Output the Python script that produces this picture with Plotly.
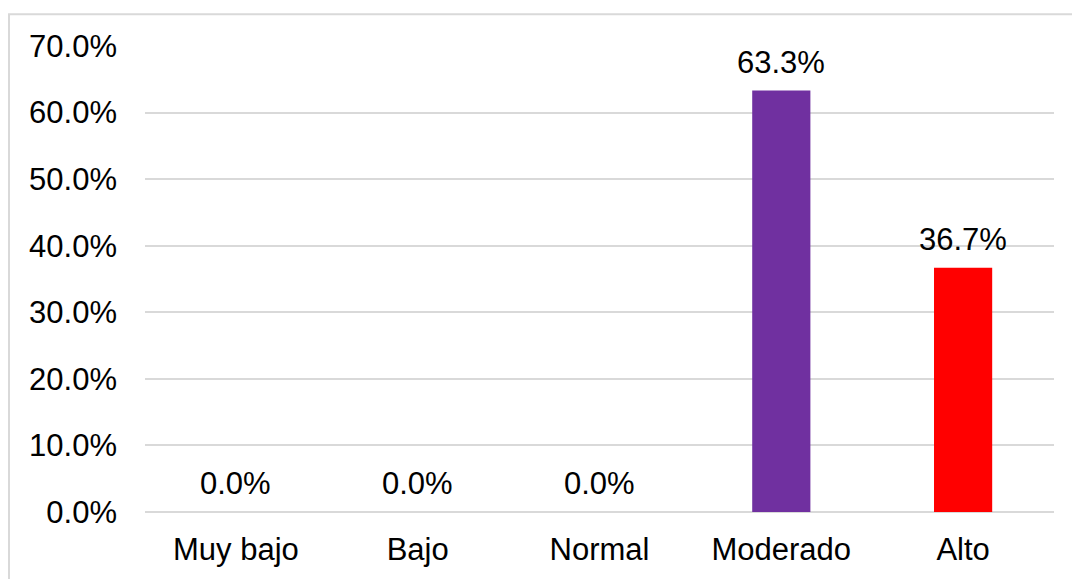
import plotly.graph_objects as go

categories = ["Muy bajo", "Bajo", "Normal", "Moderado", "Alto"]
values = [0.0, 0.0, 0.0, 63.3, 36.7]
bar_colors = ["#7030A0", "#7030A0", "#7030A0", "#7030A0", "#FF0000"]
tick_vals = [0, 10, 20, 30, 40, 50, 60, 70]
tick_text = ["0.0%", "10.0%", "20.0%", "30.0%", "40.0%", "50.0%", "60.0%", "70.0%"]

FONT = "Liberation Sans, Arial, sans-serif"
FS = 31

fig = go.Figure()
fig.add_trace(go.Bar(
    x=categories, y=values,
    marker=dict(color=bar_colors, line=dict(width=0)),
    hoverinfo="skip",
))

for c, v in zip(categories, values):
    fig.add_annotation(
        x=c, y=v, text=f"{v:.1f}%", showarrow=False,
        yanchor="bottom", yshift=9,
        font=dict(family=FONT, size=FS, color="#000000"),
    )

fig.add_shape(
    type="rect", xref="paper", yref="paper",
    x0=-0.1496, y0=-0.16, x1=1.03, y1=1.0684,
    line=dict(color="#d9d9d9", width=2), fillcolor="rgba(0,0,0,0)",
    layer="below",
)

fig.update_layout(
    width=1072, height=579,
    margin=dict(l=145, r=18, t=46, b=65),
    paper_bgcolor="white", plot_bgcolor="white",
    bargap=0.68,
    showlegend=False,
    font=dict(family=FONT, size=FS, color="#000000"),
)
fig.update_xaxes(
    showgrid=False, showline=False, zeroline=False,
    ticks="", ticklabelstandoff=16,
    tickfont=dict(family=FONT, size=FS, color="#000000"),
)
fig.update_yaxes(
    range=[0, 70], tickvals=tick_vals, ticktext=tick_text,
    showgrid=True, gridcolor="#d9d9d9", gridwidth=2,
    zeroline=True, zerolinecolor="#d9d9d9", zerolinewidth=2,
    showline=False, ticks="", ticklabelstandoff=27,
    tickfont=dict(family=FONT, size=FS, color="#000000"),
)

fig.write_html("out.html")
